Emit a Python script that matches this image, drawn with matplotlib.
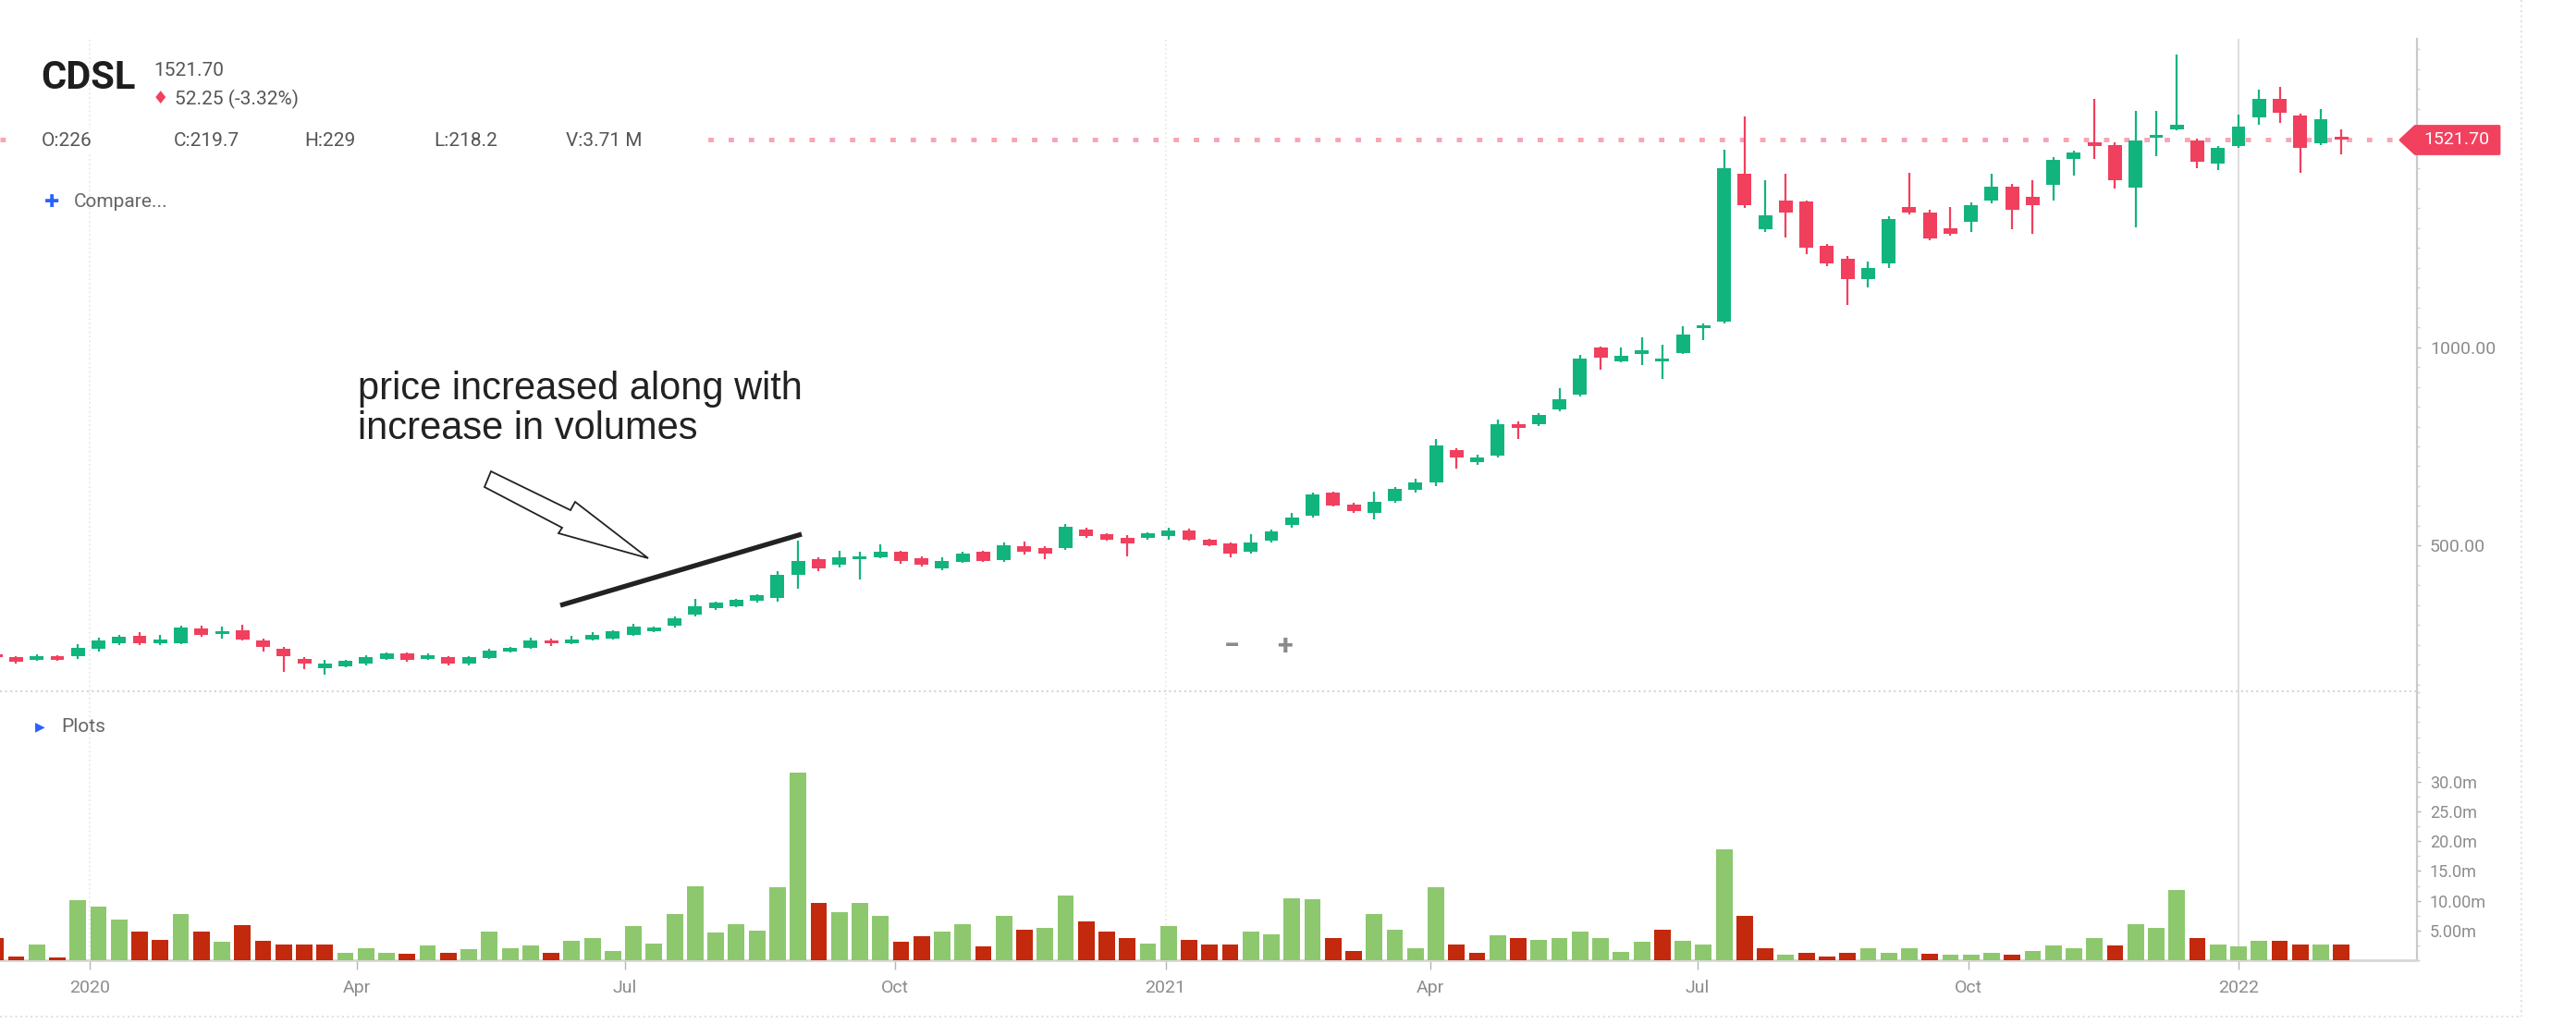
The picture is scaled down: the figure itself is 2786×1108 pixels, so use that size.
import matplotlib
matplotlib.use('Agg')
import matplotlib.pyplot as plt
import matplotlib.dates as mdates
import matplotlib.ticker as mticker
from matplotlib.patches import Polygon, Rectangle
from matplotlib.lines import Line2D
import numpy as np
import pandas as pd

plt.rcParams['font.family'] = ['Roboto', 'DejaVu Sans']

W, H = 2786, 1108  # output size in px

# weekly candles, CDSL
weeks = pd.date_range('2019-11-30', periods=115, freq='7D')

opens = [226, 219, 212, 222, 222, 241, 255, 272, 254, 255,
         291, 277, 286, 262, 241, 215, 192, 197, 202, 214,
         229, 214, 220, 202, 218, 233, 243, 262, 254, 264,
         266, 276, 284, 298, 326, 342, 347, 361, 369, 427,
         466, 451, 466, 471, 485, 468, 443, 460, 484, 464,
         499, 494, 493, 541, 528, 520, 520, 524, 538, 515,
         505, 484, 512, 551, 575, 633, 604, 582, 613, 640,
         660, 740, 710, 726, 807, 807, 842, 881, 998, 965,
         983, 965, 986, 1048, 1064, 1436, 1296, 1370, 1366, 1254,
         1223, 1172, 1211, 1353, 1339, 1300, 1316, 1370, 1405, 1378,
         1409, 1475, 1517, 1510, 1401, 1528, 1548, 1521, 1463, 1506,
         1579, 1626, 1583, 1514, 1529]

highs = [229, 221, 226, 225, 252, 268, 276, 282, 274, 299,
         298, 295, 300, 265, 244, 219, 212, 213, 224, 231,
         231, 229, 222, 221, 240, 246, 268, 266, 272, 283,
         286, 302, 296, 322, 365, 360, 366, 378, 435, 512,
         470, 488, 485, 503, 488, 472, 470, 484, 488, 507,
         510, 498, 555, 545, 532, 526, 534, 545, 542, 518,
         508, 528, 540, 583, 634, 637, 608, 637, 648, 668,
         769, 745, 728, 817, 812, 834, 897, 980, 1001, 998,
         1025, 1005, 1052, 1060, 1498, 1580, 1420, 1436, 1370, 1260,
         1230, 1215, 1330, 1440, 1345, 1352, 1365, 1436, 1410, 1420,
         1478, 1494, 1626, 1515, 1594, 1594, 1738, 1525, 1506, 1586,
         1649, 1656, 1588, 1599, 1548]

lows = [218.2, 204, 210, 210, 214, 233, 250, 250, 250, 252,
        271, 266, 262, 233, 183, 190, 175, 194, 199, 212,
        208, 212, 199, 199, 214, 230, 240, 248, 251, 261,
        263, 273, 281, 293, 322, 338, 344, 356, 360, 392,
        435, 446, 415, 468, 455, 448, 438, 456, 458, 460,
        478, 466, 489, 520, 512, 474, 514, 516, 512, 498,
        470, 480, 508, 546, 570, 598, 582, 567, 608, 634,
        650, 695, 704, 722, 769, 802, 838, 876, 943, 962,
        955, 920, 982, 1017, 1060, 1350, 1290, 1277, 1234, 1205,
        1107, 1150, 1200, 1335, 1268, 1280, 1290, 1362, 1297, 1285,
        1370, 1432, 1475, 1400, 1301, 1482, 1545, 1450, 1447, 1503,
        1560, 1564, 1440, 1508, 1486]

closes = [219.7, 207, 222, 213, 243, 262, 271, 255, 264, 293,
          275, 285, 264, 245, 221, 202, 204, 210, 220, 229,
          212, 225, 202, 219, 235, 243, 262, 253, 264, 276,
          284, 295, 293, 318, 347, 357, 363, 375, 427, 462,
          443, 470, 474, 485, 462, 453, 462, 481, 462, 501,
          485, 481, 547, 524, 515, 505, 532, 538, 516, 502,
          481, 509, 536, 571, 629, 602, 586, 610, 644, 660,
          753, 722, 722, 807, 796, 829, 869, 970, 974, 978,
          991, 972, 1032, 1056, 1451, 1358, 1331, 1339, 1250, 1211,
          1172, 1199, 1323, 1339, 1273, 1285, 1358, 1405, 1347, 1358,
          1471, 1490, 1506, 1420, 1521, 1535, 1560, 1467, 1502, 1556,
          1626, 1591, 1502, 1573.95, 1521.7]

# volume in millions
volumes = [3.71, 0.6, 2.6, 0.4, 10.1, 9.0, 6.9, 4.8, 3.4, 7.7,
           4.8, 3.1, 5.9, 3.3, 2.7, 2.7, 2.7, 1.2, 2.0, 1.2,
           1.1, 2.5, 1.2, 1.9, 4.8, 2.0, 2.5, 1.2, 3.2, 3.8,
           1.6, 5.7, 2.8, 7.8, 12.4, 4.7, 6.1, 4.9, 12.3, 31.6,
           9.6, 8.0, 9.7, 7.4, 3.1, 4.1, 4.8, 6.1, 2.3, 7.5,
           5.2, 5.4, 10.9, 6.5, 4.8, 3.8, 2.8, 5.7, 3.4, 2.6,
           2.6, 4.8, 4.4, 10.4, 10.3, 3.8, 1.6, 7.8, 5.2, 2.0,
           12.3, 2.6, 1.3, 4.2, 3.8, 3.4, 3.8, 4.8, 3.8, 1.4,
           3.1, 5.2, 3.2, 2.6, 18.7, 7.5, 2.0, 1.0, 1.3, 0.6,
           1.3, 2.0, 1.2, 2.0, 1.1, 1.0, 0.9, 1.2, 1.0, 1.6,
           2.5, 2.0, 3.7, 2.5, 6.0, 5.5, 11.8, 3.7, 2.6, 2.3,
           3.3, 3.3, 2.7, 2.6, 2.6]
# g = up week, r = down week (close vs previous close)
vol_dirs = ("rrgrgggrrg" "rgrrrrrggg" "rgrggggrgg" "gggggggggg" "rgggrrggrg"
            "rggrrrggrr" "rggggrrggg" "grrgrggggg" "grgggrrgrr" "rgggrgggrg"
            "gggrgggrgg" "grrgr")

price_ticks = [500, 1000]
vol_ticks = [5, 10, 15, 20, 25, 30]
vol_tick_labels = ['5.00m', '10.00m', '15.0m', '20.0m', '25.0m', '30.0m']
x_tick_dates = ['2020-01-01', '2020-04-01', '2020-07-01', '2020-10-01', '2021-01-01',
                '2021-04-01', '2021-07-01', '2021-10-01', '2022-01-01']
x_tick_labels = ['2020', 'Apr', 'Jul', 'Oct', '2021', 'Apr', 'Jul', 'Oct', '2022']
year_lines = ['2020-01-01', '2021-01-01', '2022-01-01']

GREEN = '#12b47e'
RED = '#f13f5e'
VOL_GREEN = '#8dc86e'
VOL_RED = '#c3290c'
GREY_TXT = '#8c8c8c'


def fx(px):
    return px / W


def fy(py):
    return 1 - py / H


fig = plt.figure(figsize=(W / 100, H / 100), dpi=100)
fig.patch.set_facecolor('white')

ax = fig.add_axes([0, fy(748), fx(2614), (748 - 42) / H])
axv = fig.add_axes([0, fy(1039), fx(2614), (1039 - 748) / H], sharex=ax)

x = mdates.date2num(weeks)
o = np.array(opens)
c = np.array(closes)
up = c >= o
cols = np.where(up, GREEN, RED)

# candles
ax.vlines(x, lows, highs, colors=cols, lw=1.6, zorder=3)
ax.bar(x, np.maximum(np.abs(c - o), 4), bottom=np.minimum(o, c), width=4.7,
       color=cols, linewidth=0, zorder=4)

# volume
vcols = [VOL_GREEN if d == 'g' else VOL_RED for d in vol_dirs]
axv.bar(x, volumes, width=5.6, color=vcols, linewidth=0, zorder=3)

ax.set_xlim(mdates.date2num(pd.Timestamp('2019-12-01 12:00')),
            mdates.date2num(pd.Timestamp('2022-03-02 17:00')))
ax.set_ylim(133.1, 1776.6)
axv.set_ylim(0, 45.2)

# year separators: last one solid, earlier ones faint dotted
for d in year_lines:
    xd = mdates.date2num(pd.Timestamp(d))
    last = d == year_lines[-1]
    for a in (ax, axv):
        a.axvline(xd, color='#dadada' if last else '#e8e8e8', lw=1.3,
                  ls='-' if last else ':', zorder=0)

# last price line
ax.axhline(closes[-1], color='#f7a4b4', lw=3.5, dashes=(1.2, 3.3), zorder=1)

for a in (ax, axv):
    for s in ['top', 'left', 'bottom']:
        a.spines[s].set_visible(False)
    a.spines['right'].set_color('#c9c9c9')
    a.spines['right'].set_linewidth(1.6)
    a.yaxis.tick_right()
    a.set_facecolor('none')

ax.set_yticks(price_ticks)
ax.yaxis.set_major_formatter(mticker.FormatStrFormatter('%.2f'))
ax.yaxis.set_minor_locator(mticker.MultipleLocator(50))
ax.tick_params(axis='y', which='major', length=3, width=1, color='#b5b5b5',
               labelcolor=GREY_TXT, labelsize=14, pad=7)
ax.tick_params(axis='y', which='minor', length=2, width=1, color='#d3d3d3')
ax.tick_params(axis='x', which='both', bottom=False, labelbottom=False)

axv.set_yticks(vol_ticks)
axv.set_yticklabels(vol_tick_labels)
axv.yaxis.set_minor_locator(mticker.MultipleLocator(2.5))
axv.tick_params(axis='y', which='major', length=3, width=1, color='#b5b5b5',
                labelcolor=GREY_TXT, labelsize=13, pad=7)
axv.tick_params(axis='y', which='minor', length=2, width=1, color='#d3d3d3')
axv.spines['bottom'].set_visible(True)
axv.spines['bottom'].set_color('#d6d6d6')
axv.spines['bottom'].set_linewidth(2)
axv.set_xticks(mdates.date2num(pd.to_datetime(x_tick_dates)))
axv.set_xticklabels(x_tick_labels)
axv.tick_params(axis='x', length=7, width=1, color='#b5b5b5',
                labelcolor=GREY_TXT, labelsize=14, pad=8)

# pane separator and outer frame
fig.add_artist(Line2D([0, fx(2614)], [fy(748), fy(748)], ls=':', lw=1.5, color='#d5d5d5'))
fig.add_artist(Line2D([fx(2727), fx(2727)], [fy(0), fy(1100)], ls=':', lw=1.5, color='#e2e2e2'))
fig.add_artist(Line2D([0, fx(2727)], [fy(1100), fy(1100)], ls=':', lw=1.5, color='#e2e2e2'))

# price tag on the right axis
y_last = ax.transData.transform((x[-1], closes[-1]))[1] / H
tag = Polygon([(fx(2596), y_last), (fx(2612), y_last + 15 / H), (fx(2703), y_last + 15 / H),
               (fx(2703), y_last - 15 / H), (fx(2612), y_last - 15 / H)],
              closed=True, facecolor='#f2415f', edgecolor='#f2415f', lw=2, joinstyle='round',
              transform=fig.transFigure, zorder=4)
fig.add_artist(tag)
fig.text(fx(2657), y_last, f"{closes[-1]:.2f}", color='white', fontsize=14,
         ha='center', va='center', zorder=5)

# header
fig.text(fx(44), fy(84), 'CDSL', fontsize=30, fontweight='bold', color='#1e1e1e', va='center')
fig.text(fx(166), fy(76), f"{closes[-1]:.2f}", fontsize=15, color='#555555', va='center')
change = closes[-1] - closes[-2]
pct = change / closes[-2] * 100
fig.text(fx(173), fy(107), '\u2666', fontsize=14, color=RED, ha='center', va='center',
         family='DejaVu Sans')
fig.text(fx(189), fy(107), f"{abs(change):.2f} ({pct:.2f}%)", fontsize=15, color='#555555',
         va='center')

fig.add_artist(Rectangle((fx(16), fy(167)), fx(746), 28 / H, facecolor='white',
                         edgecolor='none', transform=fig.transFigure, zorder=2.5))
row_y = fy(153)
fig.text(fx(45), row_y, f"O:{opens[0]:g}", fontsize=15, color='#555555', va='center')
fig.text(fx(188), row_y, f"C:{closes[0]:g}", fontsize=15, color='#555555', va='center')
fig.text(fx(329), row_y, f"H:{highs[0]:g}", fontsize=15, color='#555555', va='center')
fig.text(fx(469), row_y, f"L:{lows[0]:g}", fontsize=15, color='#555555', va='center')
fig.text(fx(612), row_y, f"V:{volumes[0]:.2f} M", fontsize=15, color='#555555', va='center')

fig.text(fx(56), fy(218), '\u271a', fontsize=14, color='#2962ff', ha='center', va='center',
         family='DejaVu Sans')
fig.text(fx(80), fy(218), 'Compare...', fontsize=15, color='#666666', va='center')

fig.text(fx(43), fy(786), '\u25b6', fontsize=10, color='#2962ff', ha='center', va='center',
         family='DejaVu Sans')
fig.text(fx(66), fy(786), 'Plots', fontsize=15, color='#666666', va='center')

fig.text(fx(1332), fy(699), '\u2212', fontsize=22, fontweight='bold', color='#8a8a8a',
         ha='center', va='center')
fig.text(fx(1390), fy(699), '+', fontsize=22, fontweight='bold', color='#8a8a8a',
         ha='center', va='center')

# annotation
fig.text(fx(387), fy(401), 'price increased along with\nincrease in volumes',
         family='Liberation Sans', fontsize=30, color='#222222', va='top', linespacing=1.1)
arrow_pts = [(531, 510), (617, 552), (622, 543), (701, 604), (604, 577), (608, 571), (524, 527)]
fig.add_artist(Polygon([(fx(px), fy(py)) for px, py in arrow_pts], closed=True,
                       facecolor='white', edgecolor='#222222', lw=1.3,
                       transform=fig.transFigure, zorder=3))
fig.add_artist(Line2D([fx(606), fx(867)], [fy(655), fy(578)], lw=3.8, color='#222222',
                      solid_capstyle='butt', zorder=3))

fig.savefig('out.png', dpi=100, facecolor='white')
